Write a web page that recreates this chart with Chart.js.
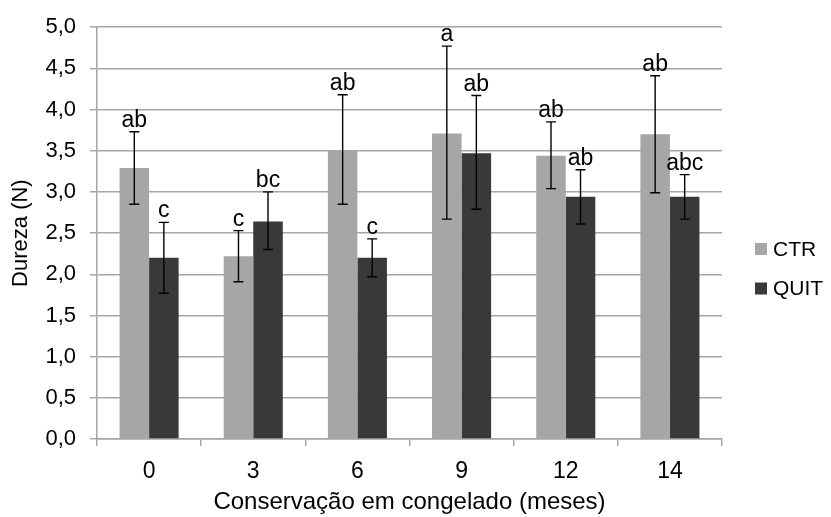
<!DOCTYPE html>
<html><head><meta charset="utf-8">
<script src="https://cdn.jsdelivr.net/npm/chart.js@4"></script>
<style>html,body{margin:0;padding:0;background:#fff}#wrap{width:831px;height:517px;position:relative}</style>
</head><body>
<div id="wrap"><canvas id="c"></canvas></div>
<script>
const categories = ['0', '3', '6', '9', '12', '14'];
const seriesNames = ['CTR', 'QUIT'];
const ctrValues = [3.29, 2.22, 3.51, 3.71, 3.44, 3.70];
const quitValues = [2.20, 2.64, 2.20, 3.47, 2.94, 2.94];
const ctrHigh = [3.73, 2.53, 4.18, 4.77, 3.85, 4.41];
const ctrLow = [2.85, 1.91, 2.85, 2.67, 3.04, 2.99];
const quitHigh = [2.63, 3.00, 2.43, 4.17, 3.27, 3.21];
const quitLow = [1.77, 2.30, 1.97, 2.79, 2.61, 2.67];
const ctrLetters = ['ab', 'c', 'ab', 'a', 'ab', 'ab'];
const quitLetters = ['c', 'bc', 'c', 'ab', 'ab', 'abc'];
const yTickLabels = ['0,0', '0,5', '1,0', '1,5', '2,0', '2,5', '3,0', '3,5', '4,0', '4,5', '5,0'];
const xTitle = 'Conservação em congelado (meses)';
const yTitle = 'Dureza (N)';

const FONT = "'Liberation Sans', Arial, sans-serif";
const GRID = '#a6a6a6';
const colors = ['#a6a6a6', '#3a3937'];
const highs = [ctrHigh, quitHigh];
const lows = [ctrLow, quitLow];
const letters = [ctrLetters, quitLetters];

const errorBarPlugin = {
  id: 'errorBars',
  afterDatasetsDraw(chart) {
    const ctx = chart.ctx;
    const y = chart.scales.y;
    ctx.save();
    chart.data.datasets.forEach((ds, i) => {
      const meta = chart.getDatasetMeta(i);
      meta.data.forEach((bar, j) => {
        const x = bar.x;
        const yh = y.getPixelForValue(highs[i][j]);
        const yl = y.getPixelForValue(lows[i][j]);
        ctx.strokeStyle = '#000';
        ctx.lineWidth = 1.4;
        ctx.beginPath();
        ctx.moveTo(x, yh); ctx.lineTo(x, yl);
        ctx.moveTo(x - 5, yh); ctx.lineTo(x + 5, yh);
        ctx.moveTo(x - 5, yl); ctx.lineTo(x + 5, yl);
        ctx.stroke();
        ctx.fillStyle = '#000';
        ctx.font = '23px ' + FONT;
        ctx.textAlign = 'center';
        ctx.textBaseline = 'alphabetic';
        ctx.fillText(letters[i][j], x, yh - 5);
      });
    });
    ctx.restore();
  }
};

const legendPlugin = {
  id: 'sideLegend',
  afterDraw(chart) {
    const ctx = chart.ctx;
    ctx.save();
    const ys = [249, 288.5];
    chart.data.datasets.forEach((ds, i) => {
      ctx.fillStyle = ds.backgroundColor;
      ctx.fillRect(755, ys[i] - 6, 12, 12);
      ctx.fillStyle = '#000';
      ctx.font = '21px ' + FONT;
      ctx.textAlign = 'left';
      ctx.textBaseline = 'middle';
      ctx.fillText(ds.label, 773, ys[i] + 1);
    });
    ctx.restore();
  }
};

new Chart(document.getElementById('c'), {
  type: 'bar',
  data: {
    labels: categories,
    datasets: [
      { label: seriesNames[0], data: ctrValues, backgroundColor: colors[0] },
      { label: seriesNames[1], data: quitValues, backgroundColor: colors[1] }
    ]
  },
  options: {
    responsive: true,
    maintainAspectRatio: false,
    animation: false,
    layout: { padding: { top: 25, right: 109, left: 0, bottom: 0 } },
    datasets: { bar: { categoryPercentage: 0.567, barPercentage: 1.0 } },
    plugins: { legend: { display: false }, tooltip: { enabled: false } },
    scales: {
      x: {
        afterFit: s => { s.height = 78; },
        grid: { offset: true, drawOnChartArea: false, drawTicks: true, tickLength: 7, color: GRID, lineWidth: 1.5 },
        border: { color: GRID, width: 1.5 },
        ticks: { color: '#000', font: { family: FONT, size: 23 }, padding: 12 },
        title: { display: true, text: xTitle, color: '#000', font: { family: FONT, size: 24 }, padding: { top: 0, bottom: 0 } }
      },
      y: {
        min: 0, max: 5,
        afterFit: s => { s.width = 97; },
        grid: { color: GRID, lineWidth: 1.5, drawTicks: true, tickLength: 7 },
        border: { color: GRID, width: 1.5 },
        ticks: {
          stepSize: 0.5, color: '#000', font: { family: FONT, size: 22 }, padding: 14,
          callback: (v, idx) => yTickLabels[idx]
        },
        title: { display: true, text: yTitle, color: '#000', font: { family: FONT, size: 22 }, padding: { top: 8, bottom: 0 } }
      }
    }
  },
  plugins: [errorBarPlugin, legendPlugin]
});
</script>
</body></html>
